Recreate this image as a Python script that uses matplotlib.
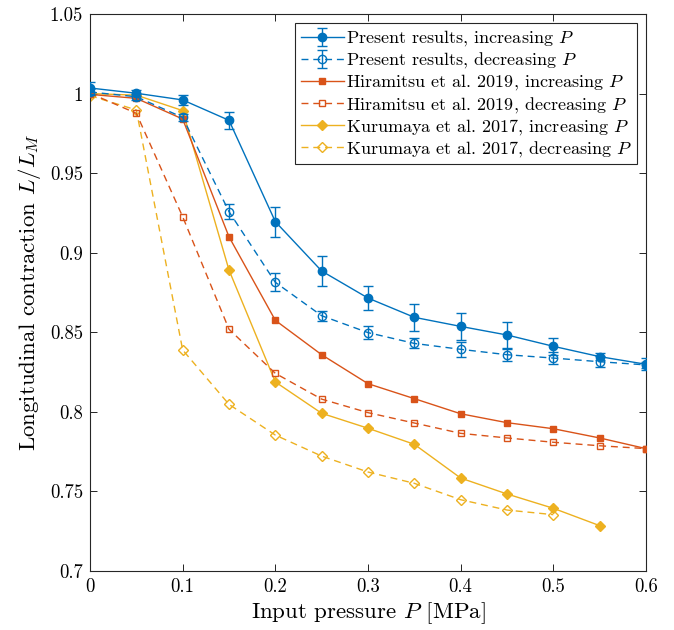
import numpy as np
import matplotlib
matplotlib.use('Agg')
import matplotlib.pyplot as plt

plt.rcParams['font.family'] = 'serif'
plt.rcParams['font.serif'] = ['cmr10', 'DejaVu Serif']
plt.rcParams['mathtext.fontset'] = 'cm'
plt.rcParams['axes.formatter.use_mathtext'] = True

BLUE = '#0072BD'
ORANGE = '#D95319'
YELLOW = '#EDB120'

# input pressure [MPa]
pressure = [0.0, 0.05, 0.1, 0.15, 0.2, 0.25, 0.3, 0.35, 0.4, 0.45, 0.5, 0.55, 0.6]

present_inc = [1.0035, 1.0002, 0.996, 0.9832, 0.9195, 0.8885, 0.8715, 0.8594,
               0.8537, 0.8483, 0.8412, 0.8347, 0.8299]
present_inc_err = [0.0035, 0.002, 0.003, 0.0055, 0.0094, 0.0097, 0.0076, 0.0083,
                   0.0087, 0.0082, 0.0054, 0.0023, 0.0037]
present_dec = [1.001, 0.998, 0.985, 0.9258, 0.8814, 0.8604, 0.8498, 0.843,
               0.8393, 0.8359, 0.8338, 0.8315, 0.8295]
present_dec_err = [0.002, 0.002, 0.002, 0.0046, 0.0056, 0.0032, 0.0042, 0.0031,
                   0.0049, 0.0039, 0.0037, 0.0033, 0.002]

hira_inc = [0.9995, 0.997, 0.984, 0.910, 0.8575, 0.8359, 0.8177, 0.8083,
            0.7988, 0.7932, 0.7894, 0.7836, 0.7769]
hira_dec = [1.0002, 0.9876, 0.9226, 0.8519, 0.8242, 0.808, 0.7995, 0.793,
            0.7865, 0.7836, 0.7809, 0.7787, 0.7769]

kuru_p_inc = pressure[:12]
kuru_inc = [1.0, 0.999, 0.9893, 0.8891, 0.8188, 0.7991, 0.7897, 0.7796,
            0.7584, 0.7484, 0.7394, 0.7285]
kuru_p_dec = pressure[:11]
kuru_dec = [0.9987, 0.9897, 0.8389, 0.8047, 0.7854, 0.7722, 0.7622, 0.7551,
            0.7448, 0.7383, 0.7354]

x_ticks = [0, 0.1, 0.2, 0.3, 0.4, 0.5, 0.6]
x_labels = ['0', '0.1', '0.2', '0.3', '0.4', '0.5', '0.6']
y_ticks = [0.7, 0.75, 0.8, 0.85, 0.9, 0.95, 1.0, 1.05]
y_labels = ['0.7', '0.75', '0.8', '0.85', '0.9', '0.95', '1', '1.05']

fig = plt.figure(figsize=(6.74, 6.3), dpi=100)
ax = fig.add_axes([90 / 674, 1 - 571 / 630, 556 / 674, 557 / 630])

lw = 1.0
dash = (5, 3.5)
h1 = ax.errorbar(pressure, present_inc, yerr=present_inc_err, color=BLUE, lw=lw,
                 marker='o', ms=6, mfc=BLUE, capsize=3.5, elinewidth=lw,
                 label='Present results, increasing $P$', zorder=6)
h2 = ax.errorbar(pressure, present_dec, yerr=present_dec_err, color=BLUE, lw=lw,
                 ls=(0, dash), marker='o', ms=6, mfc='none', capsize=3.5,
                 elinewidth=lw, label='Present results, decreasing $P$', zorder=5)
h3, = ax.plot(pressure, hira_inc, color=ORANGE, lw=lw, marker='s', ms=4.5,
              label='Hiramitsu et al. 2019, increasing $P$', zorder=4)
h4, = ax.plot(pressure, hira_dec, color=ORANGE, lw=lw, ls=(0, dash), marker='s',
              ms=4.5, mfc='none', label='Hiramitsu et al. 2019, decreasing $P$',
              zorder=3)
h5, = ax.plot(kuru_p_inc, kuru_inc, color=YELLOW, lw=lw, marker='D', ms=5,
              label='Kurumaya et al. 2017, increasing $P$', zorder=2)
h6, = ax.plot(kuru_p_dec, kuru_dec, color=YELLOW, lw=lw, ls=(0, dash), marker='D',
              ms=5, mfc='none', label='Kurumaya et al. 2017, decreasing $P$',
              zorder=1)

ax.set_xlim(0, 0.6)
ax.set_ylim(0.7, 1.05)
ax.set_xticks(x_ticks)
ax.set_xticklabels(x_labels)
ax.set_yticks(y_ticks)
ax.set_yticklabels(y_labels)
ax.tick_params(direction='in', length=5, width=0.6, labelsize=13.5,
               top=True, right=True, pad=5)
for s in ax.spines.values():
    s.set_linewidth(0.8)
    s.set_color('#262626')

ax.set_xlabel('Input pressure $P$ [MPa]', fontsize=16.5, labelpad=3)
ax.set_ylabel('Longitudinal contraction $L/L_M$', fontsize=16.5, labelpad=5)

leg = ax.legend(handles=[h1, h2, h3, h4, h5, h6], loc='upper right',
                fontsize=13, frameon=True, fancybox=False,
                edgecolor='#262626', framealpha=1, borderaxespad=0.5,
                handlelength=2.4, handletextpad=0.1, borderpad=0.3,
                labelspacing=0.12)
leg.get_frame().set_linewidth(0.8)

fig.savefig('out.png', dpi=100)
